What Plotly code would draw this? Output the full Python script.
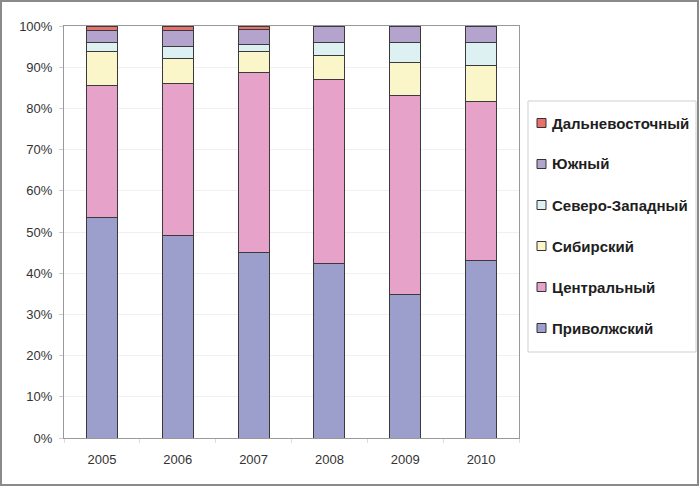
import plotly.graph_objects as go

years = ["2005", "2006", "2007", "2008", "2009", "2010"]
privolzhsky = [53.5, 49.2, 45.1, 42.3, 34.8, 43.1]
central = [32.0, 36.8, 43.7, 44.6, 48.4, 38.5]
siberian = [8.3, 6.2, 5.0, 5.9, 8.0, 8.7]
northwest = [2.3, 2.8, 1.8, 3.2, 4.7, 5.6]
southern = [2.8, 4.0, 3.5, 3.8, 3.9, 4.1]
fareast = [1.1, 1.0, 0.9, 0.2, 0.2, 0.0]

series = [
    ("Приволжский", privolzhsky, "#9c9ecb"),
    ("Центральный", central, "#e6a2c8"),
    ("Сибирский", siberian, "#fbf6ca"),
    ("Северо-Западный", northwest, "#ddf0f2"),
    ("Южный", southern, "#b3a3cd"),
    ("Дальневосточный", fareast, "#e8716c"),
]

W, H = 700, 487
pw, ph = 455, 412
ml, mt = 64, 26
mb = H - mt - ph


def px(x):
    return (x - ml) / pw


def py(y):
    return (mt + ph - y) / ph


fig = go.Figure()
for name, vals, col in series:
    fig.add_trace(go.Bar(
        x=years, y=vals, name=name,
        marker=dict(color=col, line=dict(color="#3a3a3a", width=1)),
    ))

shapes = [
    # outer chart frame
    dict(type="rect", xref="paper", yref="paper",
         x0=px(1), x1=px(698), y0=py(485), y1=py(1),
         line=dict(color="#8a8a8a", width=2), fillcolor="rgba(0,0,0,0)", layer="below"),
    # legend box
    dict(type="rect", xref="paper", yref="paper",
         x0=px(528), x1=px(696), y0=py(352), y1=py(101),
         line=dict(color="#cfcfcf", width=1), fillcolor="white", layer="below"),
]
annotations = []
for k, (name, vals, col) in enumerate(reversed(series)):
    yc = 123 + 41 * k
    shapes.append(dict(type="rect", xref="paper", yref="paper",
                       x0=px(537), x1=px(546), y0=py(yc + 4.5), y1=py(yc - 4.5),
                       line=dict(color="#333", width=1), fillcolor=col))
    annotations.append(dict(xref="paper", yref="paper", x=px(550), y=py(yc),
                            xanchor="left", yanchor="middle", showarrow=False,
                            text="<b>%s</b>" % name,
                            font=dict(size=15, color="#1e1e1e",
                                      family="Liberation Sans, Arial, sans-serif")))

fig.update_layout(
    width=W, height=H,
    barmode="stack", bargap=0.59,
    margin=dict(l=ml, r=W - ml - pw, t=mt, b=mb, autoexpand=False),
    paper_bgcolor="white", plot_bgcolor="white",
    font=dict(family="Liberation Sans, Arial, sans-serif", size=13, color="#333"),
    showlegend=False,
    xaxis=dict(showline=True, linecolor="#999", mirror=True, showgrid=False,
               ticks="outside", tickson="boundaries", ticklen=4, tickcolor="#ddd",
               ticklabelstandoff=9, tickfont=dict(size=13), automargin=False),
    yaxis=dict(range=[0, 100], dtick=10, ticksuffix="%", showline=True, linecolor="#999",
               mirror=True, showgrid=True, gridcolor="#f0f0f0", ticks="outside",
               ticklen=4, tickcolor="#ccc", ticklabelstandoff=4, tickfont=dict(size=13),
               zeroline=False, automargin=False),
    shapes=shapes,
    annotations=annotations,
)

fig.write_html("out.html", config={"displayModeBar": False},
               post_script="document.body.style.margin='0';")
